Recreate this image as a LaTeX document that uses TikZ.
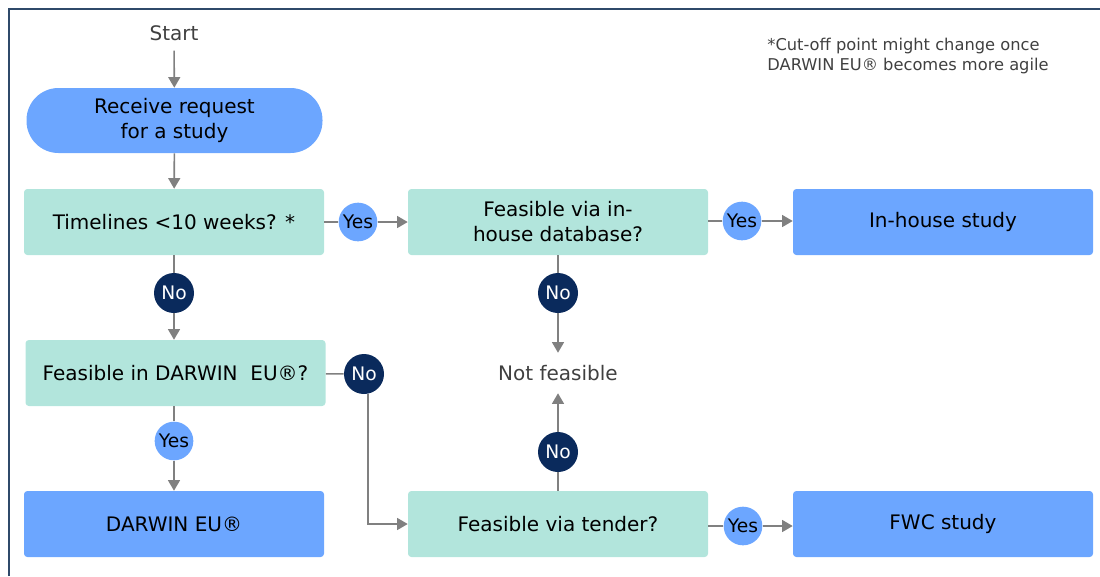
\documentclass[tikz,border=0pt]{standalone}
\usepackage{fontspec}
\setmainfont{DejaVu Sans}
\usetikzlibrary{arrows.meta,calc}
\definecolor{qteal}{RGB}{178,229,220}
\definecolor{rblue}{RGB}{108,166,255}
\definecolor{nnavy}{RGB}{10,42,92}
\definecolor{lgray}{RGB}{128,128,128}
\definecolor{tgray}{RGB}{64,64,64}
\definecolor{frame}{RGB}{47,74,106}
\tikzset{
  box/.style = {align=center, inner sep=0pt, text centered, minimum width=225pt, minimum height=49.5pt, font=\fontsize{15}{18.75}\selectfont},
  box_q/.style = {box, fill=qteal, rounded corners=2.5pt},
  box_r/.style = {box, fill=rblue, rounded corners=2.5pt},
  box_s/.style = {box, fill=rblue, minimum width=222pt, minimum height=48.75pt, rounded corners=24pt},
  plain_t/.style = {inner sep=0pt, text=tgray, font=\fontsize{15}{18.75}\selectfont},
  lbl_y/.style = {circle, inner sep=0pt, minimum size=29pt, fill=rblue, font=\fontsize{14}{16}\selectfont},
  lbl_n/.style = {circle, inner sep=0pt, minimum size=30pt, fill=nnavy, text=white, font=\fontsize{14}{16}\selectfont},
  conn/.style = {draw=lgray, line width=1.2pt},
  arr/.style = {conn, -{Triangle[length=8pt,width=9pt]}}
}
\begin{document}
\begin{tikzpicture}[x=0.75pt,y=-0.75pt]
\useasboundingbox (0,0) rectangle (1100,576);
\draw[frame, line width=1.4pt] (9,576) -- (9,9) -- (1100,9);

\node [plain_t, minimum height=24pt] (start) at (174,33) {Start};
\node [box_s] (req) at (174.5,120.5) {\raisebox{-2pt}{\parbox{200pt}{\centering Receive request\\for a study}}};
\node [box_q] (tl) at (174,222) {Timelines <10 weeks? *};
\node [box_q] (ih) at (558,222) {Feasible via in-\\house database?};
\node [box_r] (ihs) at (943,222) {In-house study};
\node [box_q] (de) at (175.5,373) {Feasible in DARWIN\ \ EU®?};
\node [plain_t, minimum height=30pt] (nf) at (558,373) {Not feasible};
\node [box_r] (dar) at (174,524) {DARWIN EU®};
\node [box_q] (td) at (558,524) {Feasible via tender?};
\node [box_r] (fwc) at (943,524) {FWC study};
\node [plain_t, align=left, font=\fontsize{12.2}{15}\selectfont] (note) at (908,56) {*Cut-off point might change once\\DARWIN EU® becomes more agile};

\node [lbl_y] (y_tl) at (358,222) {Yes};
\node [lbl_y] (y_ih) at (742,221) {Yes};
\node [lbl_n] (n_tl) at (174,293) {No};
\node [lbl_n] (n_ih) at (558,293) {No};
\node [lbl_n] (n_de) at (364,374) {No};
\node [lbl_y] (y_de) at (174,441) {Yes};
\node [lbl_n] (n_td) at (558,452) {No};
\node [lbl_y] (y_td) at (743,526) {Yes};

\draw [arr, shorten <=1pt] (start) -- (req);
\draw [arr] (req) -- (tl);
\draw [conn] (tl) -- (y_tl);
\draw [arr] (y_tl) -- (ih);
\draw [conn] (ih.east |- y_ih) -- (y_ih);
\draw [arr] (y_ih) -- (ihs.west |- y_ih);
\draw [conn] (tl) -- (n_tl);
\draw [arr] (n_tl) -- (de.north -| n_tl);
\draw [conn] (ih) -- (n_ih);
\draw [arr] (n_ih) -- (nf);
\draw [conn] (de) -- (n_de);
\draw [arr] ($(n_de.south)+(4,0)$) |- (td);
\draw [conn] (de.south -| y_de) -- (y_de);
\draw [arr] (y_de) -- (dar.north -| y_de);
\draw [conn] (td) -- (n_td);
\draw [arr] (n_td) -- (nf);
\draw [conn] (td.east |- y_td) -- (y_td);
\draw [arr] (y_td) -- (fwc.west |- y_td);
\end{tikzpicture}
\end{document}
